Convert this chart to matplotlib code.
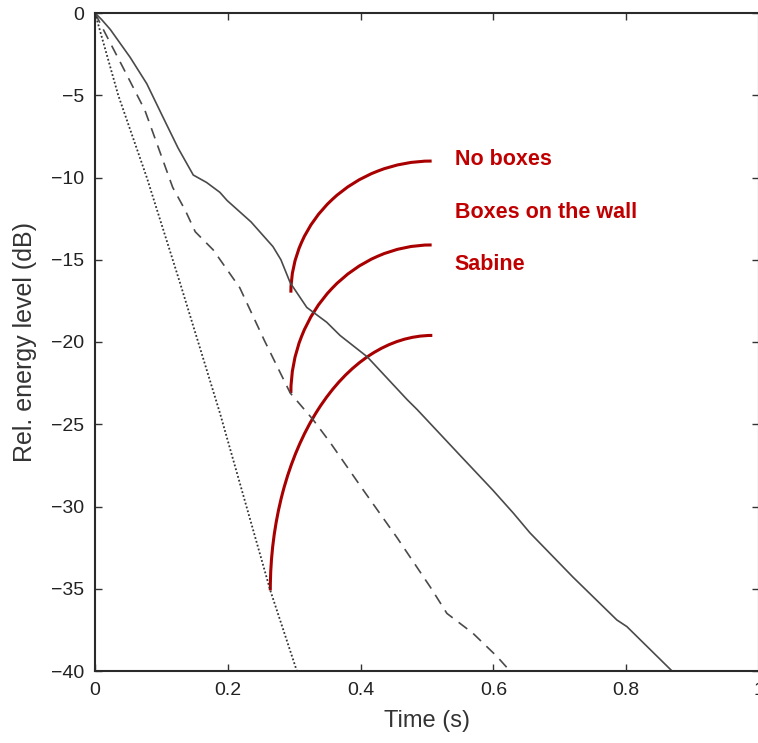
import matplotlib
matplotlib.use("Agg")
import matplotlib.pyplot as plt
from matplotlib.patches import Arc

plt.rcParams["font.family"] = ["Liberation Sans", "DejaVu Sans"]

# decay curves (time in s, level in dB)
no_boxes_t = [0.0, 0.010, 0.023, 0.053, 0.078, 0.102, 0.125, 0.148, 0.168, 0.188, 0.199,
              0.235, 0.268, 0.280, 0.294, 0.319, 0.349, 0.369, 0.41, 0.47, 0.485,
              0.55, 0.599, 0.63, 0.655, 0.72, 0.786, 0.801, 0.869]
no_boxes_db = [0.0, -0.4, -1.0, -2.7, -4.3, -6.3, -8.2, -9.85, -10.3, -10.9, -11.4,
               -12.7, -14.2, -15.0, -16.4, -17.9, -18.8, -19.6, -20.9, -23.5, -24.1,
               -26.9, -29.0, -30.4, -31.6, -34.3, -36.9, -37.3, -40.0]

boxes_wall_t = [0.0, 0.015, 0.042, 0.075, 0.117, 0.136, 0.151, 0.178, 0.218, 0.255,
                0.294, 0.328, 0.354, 0.404, 0.455, 0.505, 0.530, 0.569, 0.605, 0.625]
boxes_wall_db = [0.0, -1.2, -3.3, -5.9, -10.6, -12.0, -13.3, -14.4, -16.7, -19.9,
                 -23.1, -24.7, -26.1, -29.0, -31.9, -34.9, -36.5, -37.7, -39.1, -40.0]

sabine_t = [0.0, 0.035, 0.078, 0.128, 0.188, 0.264, 0.304]
sabine_db = [0.0, -5.0, -10.0, -16.4, -24.3, -35.1, -40.0]

# annotation arcs: start point on a curve, end point at the label side
arc_start_t = [0.295, 0.295, 0.264]
arc_start_db = [-17.0, -23.1, -35.1]
arc_end_t = [0.507, 0.507, 0.508]
arc_end_db = [-9.0, -14.1, -19.6]

labels = ["No boxes", "Boxes on the wall", "Sabine"]
label_t = 0.542
label_db = [-8.9, -12.1, -15.3]

x_ticks = [0, 0.2, 0.4, 0.6, 0.8, 1]
x_ticklabels = ["0", "0.2", "0.4", "0.6", "0.8", "1"]
y_ticks = [0, -5, -10, -15, -20, -25, -30, -35, -40]
y_ticklabels = ["0", "\u22125", "\u221210", "\u221215", "\u221220", "\u221225",
                "\u221230", "\u221235", "\u221240"]

line_color = "#4a4a4a"
red = "#a80000"
text_red = "#c00000"

fig = plt.figure(figsize=(7.58, 7.43), dpi=100)
ax = fig.add_axes([95 / 758, 72 / 743, 664 / 758, 658 / 743])

ax.plot(no_boxes_t, no_boxes_db, color=line_color, lw=1.2, ls="-")
ax.plot(boxes_wall_t, boxes_wall_db, color=line_color, lw=1.2, ls=(0, (6.5, 4.5)))
ax.plot(sabine_t, sabine_db, color="#333333", lw=1.3, ls=(0, (1, 1.2)))

for xs, ys, xe, ye in zip(arc_start_t, arc_start_db, arc_end_t, arc_end_db):
    ax.add_patch(Arc((xe, ys), 2 * (xe - xs), 2 * (ye - ys), theta1=90, theta2=180,
                     color=red, lw=2.2))

for lab, yv in zip(labels, label_db):
    ax.text(label_t, yv, lab, color=text_red, fontsize=15.5, fontweight="bold",
            ha="left", va="center")

ax.set_xlim(0, 1)
ax.set_ylim(-40, 0)
ax.set_xticks(x_ticks)
ax.set_xticklabels(x_ticklabels)
ax.set_yticks(y_ticks)
ax.set_yticklabels(y_ticklabels)
ax.tick_params(direction="in", length=5, width=1, colors="#333333", labelcolor="#222222",
               labelsize=14, top=True, right=True, pad=8)
for s in ax.spines.values():
    s.set_linewidth(1.5)
    s.set_color("#2a2a2a")

ax.set_xlabel("Time (s)", fontsize=17, color="#333333", labelpad=8)
ax.set_ylabel("Rel. energy level (dB)", fontsize=18, color="#333333", labelpad=10)

fig.savefig("out.png", dpi=100)
